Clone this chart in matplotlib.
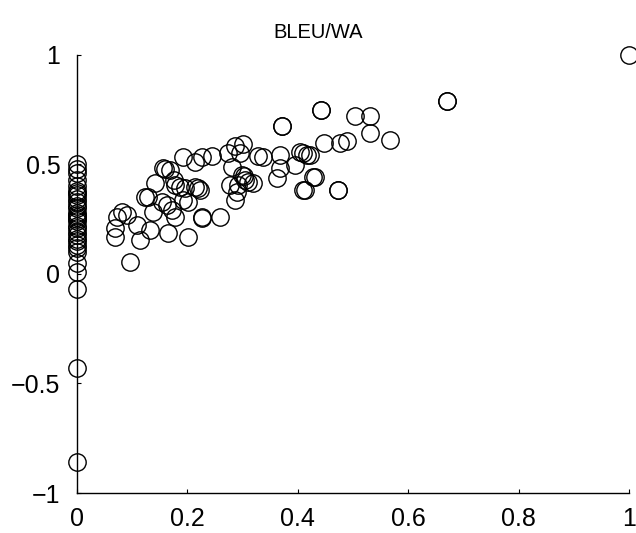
import matplotlib
matplotlib.use('Agg')
import matplotlib.pyplot as plt

plt.rcParams['font.family'] = ['Liberation Sans', 'DejaVu Sans']

# column of points at x = 0
zero_y = [0.50, 0.48, 0.46, 0.43, 0.40, 0.38, 0.37, 0.36, 0.34, 0.33, 0.31,
          0.30, 0.28, 0.27, 0.26, 0.25, 0.24, 0.22, 0.21, 0.19, 0.18, 0.16,
          0.15, 0.13, 0.12, 0.10, 0.05, 0.01, -0.07, -0.43, -0.86]

# the main cloud
cloud_x = [1.0, 0.67, 0.67, 0.442, 0.442, 0.504, 0.531, 0.531, 0.567, 0.447,
           0.476, 0.49, 0.41, 0.422, 0.431, 0.413, 0.473, 0.473,
           0.371, 0.371, 0.226, 0.245, 0.274, 0.286, 0.30, 0.295, 0.328, 0.337,
           0.368, 0.404, 0.417, 0.395, 0.368, 0.362, 0.409, 0.428, 0.281,
           0.299, 0.302, 0.304, 0.31, 0.319, 0.277, 0.292, 0.29, 0.286, 0.214,
           0.223, 0.226, 0.259,
           0.192, 0.214, 0.156, 0.168, 0.141, 0.178, 0.187, 0.196, 0.219,
           0.123, 0.129, 0.154, 0.163, 0.172, 0.178, 0.192, 0.201, 0.138,
           0.082, 0.091, 0.072, 0.109, 0.069, 0.069, 0.114, 0.132, 0.165,
           0.201, 0.226, 0.096, 0.16, 0.175]
cloud_y = [1.0, 0.79, 0.79, 0.75, 0.75, 0.72, 0.72, 0.644, 0.612, 0.598,
           0.598, 0.607, 0.552, 0.543, 0.443, 0.384, 0.384, 0.384,
           0.676, 0.676, 0.534, 0.539, 0.552, 0.584, 0.594, 0.552, 0.539, 0.534,
           0.543, 0.557, 0.543, 0.498, 0.484, 0.438, 0.384, 0.443, 0.489,
           0.452, 0.445, 0.429, 0.42, 0.416, 0.406, 0.406, 0.374, 0.338, 0.397,
           0.384, 0.26, 0.26,
           0.534, 0.511, 0.484, 0.475, 0.416, 0.406, 0.397, 0.393, 0.393,
           0.352, 0.352, 0.329, 0.315, 0.292, 0.26, 0.338, 0.329, 0.283,
           0.283, 0.27, 0.26, 0.224, 0.21, 0.169, 0.155, 0.201, 0.187,
           0.169, 0.256, 0.055, 0.48, 0.43]

xs = [0.0] * len(zero_y) + cloud_x
ys = zero_y + cloud_y

fig = plt.figure(figsize=(6.36, 5.33), dpi=100)
ax = fig.add_axes([0.121, 0.075, 0.868, 0.822])

ax.plot(xs, ys, 'o', mfc='none', mec='k', ms=12.5, mew=1.0, clip_on=False)

ax.set_xlim(0, 1)
ax.set_ylim(-1, 1)
ax.set_xticks([0, 0.2, 0.4, 0.6, 0.8, 1])
ax.set_xticklabels(['0', '0.2', '0.4', '0.6', '0.8', '1'])
ax.set_yticks([-1, -0.5, 0, 0.5, 1])
ax.set_yticklabels(['\u22121', '\u22120.5', '0', '0.5', '1'])
ax.tick_params(direction='in', length=3, width=0.8, labelsize=18)
ax.tick_params(axis='x', pad=10)
ax.tick_params(axis='y', pad=12)
for s in ['top', 'right']:
    ax.spines[s].set_visible(False)
for s in ['left', 'bottom']:
    ax.spines[s].set_linewidth(1.0)

# title sits left of the axes centre, as in the original
fig.text(318 / 636, 1 - 32 / 533, 'BLEU/WA', fontsize=14.5, ha='center', va='center')

fig.savefig('out.png', dpi=100)
